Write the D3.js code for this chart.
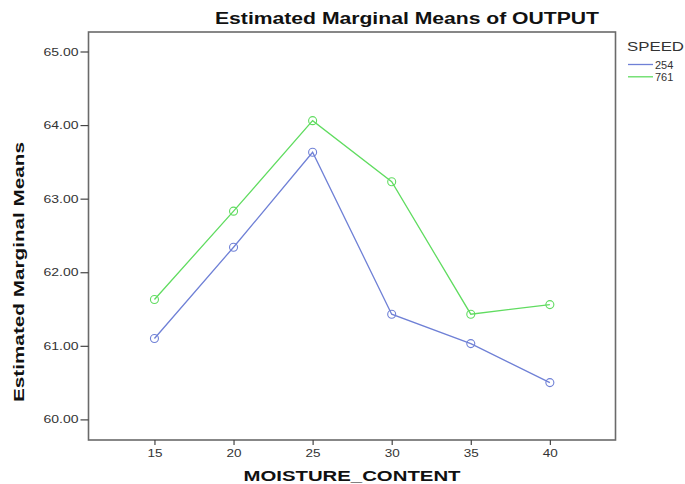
<!DOCTYPE html>
<html><head><meta charset="utf-8">
<script src="https://cdn.jsdelivr.net/npm/d3@7"></script>
<style>body{margin:0;background:#fff;}svg{display:block;font-family:"Liberation Sans",Arial,sans-serif;}</style>
</head><body>
<svg id="c" width="685" height="484"></svg>
<script>
const categories = [15, 20, 25, 30, 35, 40];
const speed254 = [61.10, 62.34, 63.63, 61.43, 61.03, 60.50];
const speed761 = [61.63, 62.83, 64.06, 63.23, 61.43, 61.56];
const seriesNames = ["254", "761"];
const colors = ["#6f80d6", "#60dc60"];
const yTicks = [60, 61, 62, 63, 64, 65];
const title = "Estimated Marginal Means of OUTPUT";
const xTitle = "MOISTURE_CONTENT";
const yTitle = "Estimated Marginal Means";
const legendTitle = "SPEED";

const svg = d3.select("#c");
const L = 88.5, R = 615.5, T = 32, B = 440;
const x = d3.scaleLinear().domain([10.83, 44.15]).range([L, R]);
const y = d3.scaleLinear().domain([59.72, 65.265]).range([B, T]);

// frame
svg.append("rect").attr("x", L).attr("y", T).attr("width", R - L).attr("height", B - T)
  .attr("fill", "none").attr("stroke", "#6a6a6a").attr("stroke-width", 1.6);

// y axis
const ya = svg.append("g").attr("transform", `translate(${L},0)`)
  .call(d3.axisLeft(y).tickValues(yTicks).tickFormat(d3.format(".2f")).tickSize(8).tickPadding(2));
ya.select(".domain").remove();
ya.selectAll("line").attr("stroke", "#444").attr("stroke-width", 1.2);
ya.selectAll("text").attr("font-size", 11).attr("fill", "#333")
  .attr("textLength", 35).attr("lengthAdjust", "spacingAndGlyphs");

// x axis
const xa = svg.append("g").attr("transform", `translate(0,${B})`)
  .call(d3.axisBottom(x).tickValues(categories).tickFormat(d3.format("d")).tickSize(5).tickPadding(4));
xa.select(".domain").remove();
xa.selectAll("line").attr("stroke", "#444").attr("stroke-width", 1.2);
xa.selectAll("text").attr("font-size", 11.5).attr("fill", "#333")
  .attr("textLength", 15).attr("lengthAdjust", "spacingAndGlyphs");

// series
const series = [speed254, speed761];
const line = d3.line().x((d, i) => x(categories[i])).y(d => y(d));
series.forEach((vals, k) => {
  svg.append("path").datum(vals).attr("d", line).attr("fill", "none")
    .attr("stroke", colors[k]).attr("stroke-width", 1.3);
  svg.selectAll(null).data(vals).enter().append("circle")
    .attr("cx", (d, i) => x(categories[i])).attr("cy", d => y(d)).attr("r", 4)
    .attr("fill", "none").attr("stroke", colors[k]).attr("stroke-width", 1.1);
});

// titles
svg.append("text").attr("x", 407).attr("y", 24).attr("text-anchor", "middle")
  .attr("font-size", 16).attr("font-weight", "bold").attr("fill", "#111")
  .attr("textLength", 384).attr("lengthAdjust", "spacingAndGlyphs").text(title);
svg.append("text").attr("x", 352).attr("y", 481).attr("text-anchor", "middle")
  .attr("font-size", 14.5).attr("font-weight", "bold").attr("fill", "#111")
  .attr("textLength", 217).attr("lengthAdjust", "spacingAndGlyphs").text(xTitle);
svg.append("text").attr("transform", "translate(24,272) rotate(-90)").attr("text-anchor", "middle")
  .attr("font-size", 15).attr("font-weight", "bold").attr("fill", "#111")
  .attr("textLength", 260).attr("lengthAdjust", "spacingAndGlyphs").text(yTitle);

// legend
svg.append("text").attr("x", 627).attr("y", 51).attr("font-size", 13.5).attr("fill", "#333")
  .attr("textLength", 57).attr("lengthAdjust", "spacingAndGlyphs").text(legendTitle);
seriesNames.forEach((n, k) => {
  const ly = 64.5 + k * 12.3;
  svg.append("line").attr("x1", 628).attr("x2", 653).attr("y1", ly).attr("y2", ly)
    .attr("stroke", colors[k]).attr("stroke-width", 1.3);
  svg.append("text").attr("x", 655).attr("y", ly + 4).attr("font-size", 11).attr("fill", "#333").text(n);
});
</script>
</body></html>
